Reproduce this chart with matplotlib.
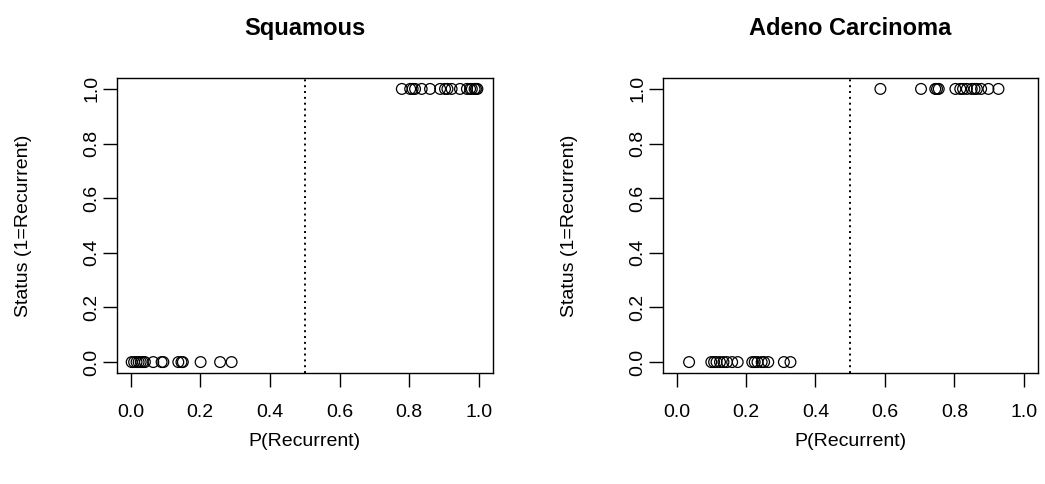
import matplotlib
matplotlib.use("Agg")
import matplotlib.pyplot as plt

plt.rcParams['font.family'] = ['Liberation Sans', 'DejaVu Sans']

titles = ["Squamous", "Adeno Carcinoma"]
xlabel = "P(Recurrent)"
ylabel = "Status (1=Recurrent)"
threshold = 0.5

sq_p0 = [0.003, 0.010, 0.017, 0.023, 0.029, 0.035, 0.041, 0.065, 0.089, 0.094,
         0.137, 0.146, 0.150, 0.201, 0.257, 0.290]
sq_p1 = [0.779, 0.803, 0.810, 0.817, 0.836, 0.860, 0.889, 0.903, 0.910, 0.922,
         0.946, 0.966, 0.975, 0.980, 0.988, 0.992, 0.996]
ad_p0 = [0.036, 0.100, 0.108, 0.115, 0.125, 0.135, 0.145, 0.160, 0.176, 0.218,
         0.225, 0.233, 0.245, 0.252, 0.264, 0.309, 0.328]
ad_p1 = [0.587, 0.704, 0.745, 0.750, 0.755, 0.803, 0.817, 0.825, 0.836, 0.850,
         0.858, 0.865, 0.877, 0.898, 0.927]

data = [(sq_p0, sq_p1), (ad_p0, ad_p1)]

fig = plt.figure(figsize=(10.45, 4.84), dpi=100)
W, H = 1045, 484
boxes = [(116.7, 78, 492.7, 373), (662.7, 78, 1037.7, 373)]

for (x0, y0, x1, y1), title, (p0, p1) in zip(boxes, titles, data):
    ax = fig.add_axes([x0 / W, 1 - y1 / H, (x1 - x0) / W, (y1 - y0) / H])
    ax.scatter(p0, [0] * len(p0), s=60, facecolors='none', edgecolors='black', linewidths=0.9)
    ax.scatter(p1, [1] * len(p1), s=60, facecolors='none', edgecolors='black', linewidths=0.9)
    ax.axvline(threshold, color='black', linestyle=(0, (1, 2)), linewidth=1.4)
    ax.set_xlim(-0.04, 1.04)
    ax.set_ylim(-0.04, 1.04)
    ax.set_xticks([0, 0.2, 0.4, 0.6, 0.8, 1.0])
    ax.set_xticklabels(["0.0", "0.2", "0.4", "0.6", "0.8", "1.0"])
    ax.set_yticks([0, 0.2, 0.4, 0.6, 0.8, 1.0])
    ax.set_yticklabels(["0.0", "0.2", "0.4", "0.6", "0.8", "1.0"], rotation=90, va='center')
    ax.tick_params(direction='out', length=10, width=1, labelsize=14)
    ax.tick_params(axis='x', pad=12)
    ax.tick_params(axis='y', pad=2)
    for sp in ax.spines.values():
        sp.set_linewidth(1)
    ax.set_title(title, fontsize=17, fontweight='bold', pad=31)
    ax.set_xlabel(xlabel, fontsize=14, labelpad=9)
    ax.set_ylabel(ylabel, fontsize=14, labelpad=37)

fig.savefig("out.png", dpi=100)
